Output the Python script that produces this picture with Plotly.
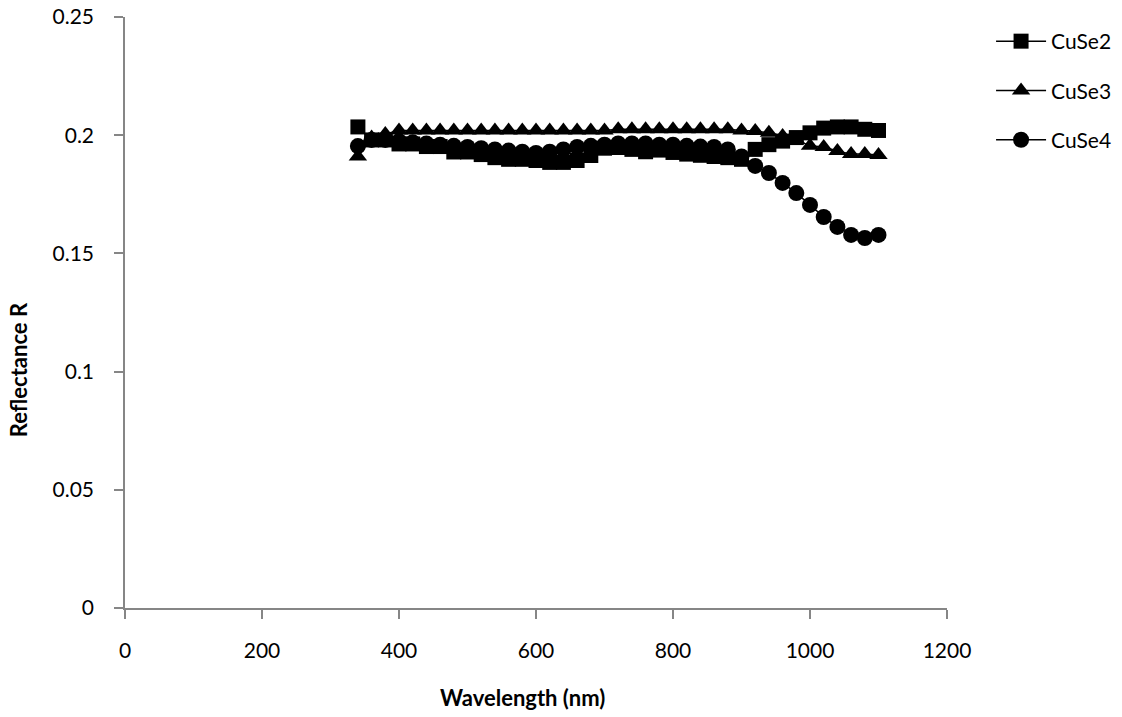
import plotly.graph_objects as go

wavelength = [340, 360, 380, 400, 420, 440, 460, 480, 500, 520, 540, 560, 580, 600, 620, 640,
              660, 680, 700, 720, 740, 760, 780, 800, 820, 840, 860, 880, 900, 920, 940, 960,
              980, 1000, 1020, 1040, 1060, 1080, 1100]

cuse2 = [0.2035, 0.198, 0.198, 0.1963, 0.1963, 0.1952, 0.1952, 0.1929, 0.1929, 0.1918, 0.1905,
         0.1898, 0.1898, 0.1893, 0.1885, 0.1885, 0.1893, 0.1914, 0.1945, 0.1948, 0.194, 0.193,
         0.1937, 0.1927, 0.192, 0.1915, 0.191, 0.1905, 0.1898, 0.194, 0.196, 0.1975, 0.199,
         0.201, 0.203, 0.2035, 0.2035, 0.2025, 0.202]

cuse3 = [0.191, 0.199, 0.2005, 0.202, 0.202, 0.202, 0.202, 0.202, 0.202, 0.202, 0.202,
         0.202, 0.202, 0.202, 0.202, 0.202, 0.202, 0.202, 0.202, 0.2025, 0.2025, 0.2025,
         0.2025, 0.2025, 0.2025, 0.2025, 0.2025, 0.2025, 0.202, 0.2018, 0.201, 0.1997, 0.198,
         0.1955, 0.195, 0.1933, 0.192, 0.192, 0.1916]

cuse4 = [0.1954, 0.198, 0.198, 0.1975, 0.197, 0.1965, 0.196, 0.1955, 0.195, 0.1945, 0.194,
         0.1935, 0.193, 0.1925, 0.193, 0.194, 0.195, 0.1955, 0.196, 0.1965, 0.1965, 0.1965,
         0.196, 0.196, 0.1955, 0.1952, 0.195, 0.194, 0.191, 0.187, 0.184, 0.1798, 0.1755,
         0.1705, 0.1654, 0.1612, 0.1578, 0.1565, 0.1578]

series = [("CuSe2", cuse2, "square", 15), ("CuSe3", cuse3, "triangle-up", 16), ("CuSe4", cuse4, "circle", 16)]

x_ticks = [0, 200, 400, 600, 800, 1000, 1200]
y_ticks = [0, 0.05, 0.1, 0.15, 0.2, 0.25]
y_tick_text = ["0", "0.05", "0.1", "0.15", "0.2", "0.25"]

x_title = "Wavelength (nm)"
y_title = "Reflectance R"

FONT = "Lato, 'Open Sans', sans-serif"
AXIS_COLOR = "#868686"
FS = 21

fig = go.Figure()
for i, (name, vals, sym, sz) in enumerate(series):
    fig.add_trace(go.Scatter(
        x=wavelength, y=vals, name=name, mode="lines+markers",
        line=dict(color="black", width=1.5),
        marker=dict(symbol=sym, size=sz, color="black"),
        legendgroup=name,
    ))

fig.add_annotation(text=f"<b>{x_title}</b>", xref="paper", yref="paper", x=0.483, y=-0.1506,
                   xanchor="center", yanchor="middle", showarrow=False,
                   font=dict(family=FONT, size=22, color="black"))
fig.add_annotation(text=f"<b>{y_title}</b>", xref="paper", yref="paper", x=-0.130, y=0.4027,
                   xanchor="center", yanchor="middle", showarrow=False, textangle=-90,
                   font=dict(family=FONT, size=22, color="black"))

fig.update_layout(
    width=1122, height=717,
    margin=dict(l=125, r=175, t=17, b=109, autoexpand=False),
    paper_bgcolor="white", plot_bgcolor="white",
    font=dict(family=FONT, size=FS, color="black"),
    showlegend=True,
    legend=dict(x=0.8833, y=0.9707, xanchor="left", yanchor="top",
                xref="container", yref="container",
                traceorder="grouped", tracegroupgap=19,
                font=dict(family=FONT, size=FS, color="black"),
                bgcolor="rgba(0,0,0,0)", itemwidth=50),
    xaxis=dict(range=[0, 1200], tickvals=x_ticks, showgrid=False, zeroline=False,
               showline=True, linecolor=AXIS_COLOR, linewidth=1.5,
               ticks="outside", ticklen=9, tickcolor=AXIS_COLOR, tickwidth=1.5,
               tickfont=dict(family=FONT, size=FS), ticklabelstandoff=14),
    yaxis=dict(range=[0, 0.25], tickvals=y_ticks, ticktext=y_tick_text, showgrid=False, zeroline=False,
               showline=True, linecolor=AXIS_COLOR, linewidth=1.5,
               ticks="outside", ticklen=9, tickcolor=AXIS_COLOR, tickwidth=1.5,
               tickfont=dict(family=FONT, size=FS), ticklabelstandoff=16),
)

fig.write_html("out.html")
